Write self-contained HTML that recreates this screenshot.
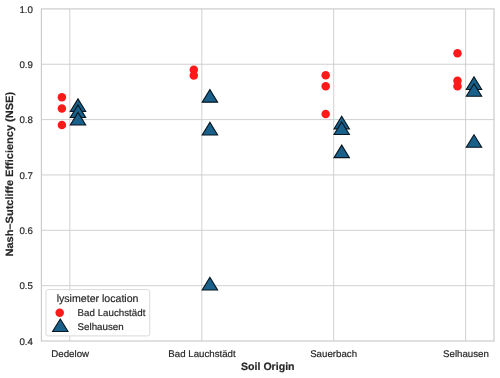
<!DOCTYPE html>
<html lang="en"><head><meta charset="utf-8"><title>NSE by Soil Origin</title>
<style>html,body{margin:0;padding:0;background:#fff}body{width:500px;height:378px;overflow:hidden}</style></head>
<body>
<svg width="500" height="378" viewBox="0 0 500 378" style="display:block">
<rect width="500" height="378" fill="#fff"/>
<g stroke="#cccccc" stroke-width="0.9" fill="none">
<line x1="69.8" y1="8.9" x2="69.8" y2="341.0"/>
<line x1="201.8" y1="8.9" x2="201.8" y2="341.0"/>
<line x1="333.7" y1="8.9" x2="333.7" y2="341.0"/>
<line x1="465.6" y1="8.9" x2="465.6" y2="341.0"/>
<line x1="41.4" y1="285.65" x2="494.0" y2="285.65"/>
<line x1="41.4" y1="230.30" x2="494.0" y2="230.30"/>
<line x1="41.4" y1="174.95" x2="494.0" y2="174.95"/>
<line x1="41.4" y1="119.60" x2="494.0" y2="119.60"/>
<line x1="41.4" y1="64.25" x2="494.0" y2="64.25"/>
</g>
<g fill="#ff1a1a">
<circle cx="61.9" cy="97.3" r="4.25"/>
<circle cx="61.9" cy="108.5" r="4.25"/>
<circle cx="61.9" cy="125.0" r="4.25"/>
<circle cx="193.8" cy="69.8" r="4.25"/>
<circle cx="193.8" cy="75.4" r="4.25"/>
<circle cx="325.7" cy="75.2" r="4.25"/>
<circle cx="325.7" cy="86.3" r="4.25"/>
<circle cx="325.7" cy="114.0" r="4.25"/>
<circle cx="457.5" cy="53.2" r="4.25"/>
<circle cx="457.5" cy="80.7" r="4.25"/>
<circle cx="457.5" cy="86.2" r="4.25"/>
</g>
<g fill="#19618a" stroke="#07161f" stroke-width="1.1" stroke-linejoin="miter">
<polygon points="78.00,98.90 70.30,111.45 85.70,111.45"/>
<polygon points="78.00,104.90 70.30,117.45 85.70,117.45"/>
<polygon points="78.00,112.40 70.30,124.95 85.70,124.95"/>
<polygon points="209.90,89.60 202.20,102.15 217.60,102.15"/>
<polygon points="209.90,122.40 202.20,134.95 217.60,134.95"/>
<polygon points="209.90,277.40 202.20,289.95 217.60,289.95"/>
<polygon points="341.70,116.30 334.00,128.85 349.40,128.85"/>
<polygon points="341.70,122.00 334.00,134.55 349.40,134.55"/>
<polygon points="341.70,145.10 334.00,157.65 349.40,157.65"/>
<polygon points="474.00,76.90 466.30,89.45 481.70,89.45"/>
<polygon points="474.00,83.70 466.30,96.25 481.70,96.25"/>
<polygon points="474.00,134.70 466.30,147.25 481.70,147.25"/>
</g>
<rect x="41.4" y="8.9" width="452.6" height="332.1" fill="none" stroke="#cacaca" stroke-width="1.15"/>
<rect x="46" y="289.6" width="103.7" height="46.3" rx="2" ry="2" fill="#fff" fill-opacity="0.8" stroke="#cccccc" stroke-opacity="0.8" stroke-width="0.9"/>
<circle cx="59.7" cy="312.8" r="4.25" fill="#ff1a1a"/>
<g fill="#19618a" stroke="#07161f" stroke-width="1.1"><polygon points="60.30,319.00 52.60,331.55 68.00,331.55"/></g>
<g font-family="'Liberation Sans', Arial, sans-serif" fill="#262626" stroke="#262626" stroke-width="0.18" text-rendering="geometricPrecision">
<g font-size="9.7" text-anchor="end">
<text x="32.9" y="344.60">0.4</text>
<text x="32.9" y="289.25">0.5</text>
<text x="32.9" y="233.90">0.6</text>
<text x="32.9" y="178.55">0.7</text>
<text x="32.9" y="123.20">0.8</text>
<text x="32.9" y="67.85">0.9</text>
<text x="32.9" y="12.50">1.0</text>
</g>
<g font-size="9.7" text-anchor="middle">
<text x="70.2" y="356.8">Dedelow</text>
<text x="202.0" y="356.8">Bad Lauchstädt</text>
<text x="333.6" y="356.8">Sauerbach</text>
<text x="466.0" y="356.8">Selhausen</text>
</g>
<text x="267.8" y="370" font-size="10.6" font-weight="bold" text-anchor="middle">Soil Origin</text>
<text transform="translate(13.2,174.2) rotate(-90) scale(1.039,1)" font-size="10.6" font-weight="bold" text-anchor="middle">Nash–Sutcliffe Efficiency (NSE)</text>
<text x="97.6" y="301.7" font-size="10.6" text-anchor="middle">lysimeter location</text>
<text x="77.6" y="315.7" font-size="9.75">Bad Lauchstädt</text>
<text x="77.6" y="329.9" font-size="9.75">Selhausen</text>
</g>
</svg>
</body></html>
